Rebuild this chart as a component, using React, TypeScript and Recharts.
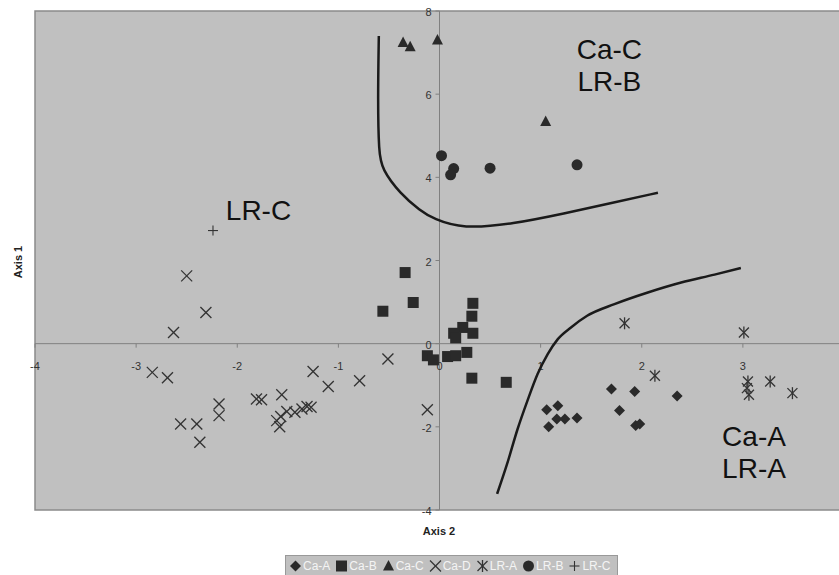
import React from "react";
import {
  ScatterChart,
  Scatter,
  XAxis,
  YAxis,
  ReferenceArea,
  ReferenceLine,
  ReferenceDot,
} from "recharts";

// groups (Axis 2 = x, Axis 1 = y)
const caA = [
  { x: 1.06, y: -1.59 }, { x: 1.17, y: -1.49 }, { x: 1.16, y: -1.81 },
  { x: 1.24, y: -1.81 }, { x: 1.36, y: -1.79 }, { x: 1.08, y: -2.0 },
  { x: 1.7, y: -1.09 }, { x: 1.93, y: -1.15 }, { x: 1.78, y: -1.61 },
  { x: 1.94, y: -1.97 }, { x: 1.98, y: -1.93 }, { x: 2.35, y: -1.26 },
];
const caB = [
  { x: -0.34, y: 1.71 }, { x: -0.26, y: 0.99 }, { x: -0.56, y: 0.78 },
  { x: 0.33, y: 0.97 }, { x: 0.32, y: 0.66 }, { x: 0.23, y: 0.39 },
  { x: 0.14, y: 0.25 }, { x: 0.16, y: 0.14 }, { x: 0.33, y: 0.25 },
  { x: -0.12, y: -0.29 }, { x: -0.06, y: -0.39 }, { x: 0.08, y: -0.31 },
  { x: 0.16, y: -0.29 }, { x: 0.27, y: -0.21 }, { x: 0.32, y: -0.83 },
  { x: 0.66, y: -0.93 },
];
const caC = [
  { x: -0.36, y: 7.24 }, { x: -0.29, y: 7.14 }, { x: -0.02, y: 7.3 },
  { x: 1.05, y: 5.34 },
];
const caD = [
  { x: -2.5, y: 1.63 }, { x: -2.31, y: 0.75 }, { x: -2.63, y: 0.27 },
  { x: -2.84, y: -0.69 }, { x: -2.69, y: -0.82 }, { x: -2.56, y: -1.93 },
  { x: -2.4, y: -1.93 }, { x: -2.37, y: -2.37 }, { x: -2.18, y: -1.45 },
  { x: -2.18, y: -1.73 }, { x: -1.81, y: -1.33 }, { x: -1.76, y: -1.35 },
  { x: -1.56, y: -1.23 }, { x: -1.61, y: -1.85 }, { x: -1.58, y: -2.0 },
  { x: -1.57, y: -1.75 }, { x: -1.51, y: -1.63 }, { x: -1.43, y: -1.65 },
  { x: -1.36, y: -1.57 }, { x: -1.31, y: -1.51 }, { x: -1.27, y: -1.53 },
  { x: -1.25, y: -0.67 }, { x: -1.1, y: -1.03 }, { x: -0.79, y: -0.89 },
  { x: -0.51, y: -0.37 }, { x: -0.12, y: -1.59 },
];
const lrA = [
  { x: 1.83, y: 0.49 }, { x: 3.01, y: 0.27 }, { x: 2.13, y: -0.77 },
  { x: 3.05, y: -0.91 }, { x: 3.04, y: -1.07 }, { x: 3.06, y: -1.23 },
  { x: 3.27, y: -0.91 }, { x: 3.49, y: -1.19 },
];
const lrB = [
  { x: 0.02, y: 4.52 }, { x: 0.14, y: 4.21 }, { x: 0.11, y: 4.06 },
  { x: 0.5, y: 4.22 }, { x: 1.36, y: 4.3 },
];
const lrC = [{ x: -2.24, y: 2.72 }];

// the two hand drawn boundaries
const boundaryTop = [
  { x: -0.6, y: 7.4 }, { x: -0.61, y: 5.84 }, { x: -0.6, y: 4.6 },
  { x: -0.57, y: 4.2 }, { x: -0.39, y: 3.61 }, { x: -0.19, y: 3.2 },
  { x: -0.06, y: 3.0 }, { x: 0.23, y: 2.76 }, { x: 0.73, y: 2.88 },
  { x: 1.23, y: 3.13 }, { x: 1.72, y: 3.39 }, { x: 2.16, y: 3.63 },
];
const boundaryBottom = [
  { x: 0.57, y: -3.61 }, { x: 0.67, y: -2.88 }, { x: 0.77, y: -2.07 },
  { x: 0.87, y: -1.37 }, { x: 0.97, y: -0.73 }, { x: 1.07, y: -0.25 },
  { x: 1.17, y: 0.11 }, { x: 1.3, y: 0.39 }, { x: 1.46, y: 0.67 },
  { x: 1.73, y: 0.95 }, { x: 2.06, y: 1.23 }, { x: 2.39, y: 1.47 },
  { x: 2.72, y: 1.66 }, { x: 2.98, y: 1.82 },
];

const xTicks = [-4, -3, -2, -1, 0, 1, 2, 3];
const yTicks = [-4, -2, 0, 2, 4, 6, 8];

const regionLabels = [
  { x: 1.68, y: 7.07, text: "Ca-C" },
  { x: 1.68, y: 6.3, text: "LR-B" },
  { x: -1.79, y: 3.2, text: "LR-C" },
  { x: 3.11, y: -2.24, text: "Ca-A" },
  { x: 3.11, y: -3.0, text: "LR-A" },
];

const FONT = "Arial, 'Liberation Sans', sans-serif";
const MARK = "#2a2a2a";

const diamond = ({ cx, cy }: any) => (
  <polygon points={`${cx},${cy - 5.5} ${cx + 5.5},${cy} ${cx},${cy + 5.5} ${cx - 5.5},${cy}`} fill={MARK} />
);
const square = ({ cx, cy }: any) => (
  <rect x={cx - 5.5} y={cy - 5.5} width={11} height={11} fill={MARK} />
);
const triangle = ({ cx, cy }: any) => (
  <polygon points={`${cx},${cy - 6} ${cx + 5.5},${cy + 4.5} ${cx - 5.5},${cy + 4.5}`} fill={MARK} />
);
const cross = ({ cx, cy }: any) => (
  <g stroke="#333" strokeWidth={1.3}>
    <line x1={cx - 5.5} y1={cy - 5.5} x2={cx + 5.5} y2={cy + 5.5} />
    <line x1={cx - 5.5} y1={cy + 5.5} x2={cx + 5.5} y2={cy - 5.5} />
  </g>
);
const star = ({ cx, cy }: any) => (
  <g stroke="#333" strokeWidth={1.3}>
    <line x1={cx - 5} y1={cy - 5} x2={cx + 5} y2={cy + 5} />
    <line x1={cx - 5} y1={cy + 5} x2={cx + 5} y2={cy - 5} />
    <line x1={cx} y1={cy - 6} x2={cx} y2={cy + 6} />
  </g>
);
const circle = ({ cx, cy }: any) => <circle cx={cx} cy={cy} r={5.5} fill={MARK} />;
const plus = ({ cx, cy }: any) => (
  <g stroke="#333" strokeWidth={1.1}>
    <line x1={cx - 5} y1={cy} x2={cx + 5} y2={cy} />
    <line x1={cx} y1={cy - 5} x2={cx} y2={cy + 5} />
  </g>
);

const series = [
  { name: "Ca-A", data: caA, shape: diamond },
  { name: "Ca-B", data: caB, shape: square },
  { name: "Ca-C", data: caC, shape: triangle },
  { name: "Ca-D", data: caD, shape: cross },
  { name: "LR-A", data: lrA, shape: star },
  { name: "LR-B", data: lrB, shape: circle },
  { name: "LR-C", data: lrC, shape: plus },
];

const noDot = () => <g />;

export default function App() {
  return (
    <div
      style={{
        position: "fixed",
        left: 0,
        top: 0,
        width: 839,
        height: 575,
        overflow: "hidden",
        background: "#fff",
        fontFamily: FONT,
      }}
    >
      <ScatterChart width={860} height={575} margin={{ top: 11, right: 16, bottom: 65, left: 35 }}>
        <XAxis type="number" dataKey="x" domain={[-4, 4]} hide />
        <YAxis type="number" dataKey="y" domain={[-4, 8]} hide />
        <ReferenceArea x1={-4} x2={4} y1={-4} y2={8} fill="#c0c0c0" fillOpacity={1} stroke="#8a8a8a" strokeWidth={1.5} />
        <ReferenceLine x={0} stroke="#808080" />
        <ReferenceLine y={0} stroke="#808080" />
        {xTicks.map((t) => (
          <ReferenceDot
            key={"x" + t}
            x={t}
            y={0}
            r={0}
            shape={({ cx, cy }: any) => (
              <g>
                <line x1={cx} y1={cy} x2={cx} y2={cy + 4} stroke="#808080" />
                <text x={cx} y={cy + 22} textAnchor="middle" dominantBaseline="central" fontSize={11} fill="#333" fontFamily={FONT}>
                  {t}
                </text>
              </g>
            )}
          />
        ))}
        {yTicks.map((t) => (
          <ReferenceDot
            key={"y" + t}
            x={0}
            y={t}
            r={0}
            shape={({ cx, cy }: any) => (
              <g>
                <line x1={cx - 4} y1={cy} x2={cx} y2={cy} stroke="#808080" />
                <text x={cx - 8} y={cy + 1} textAnchor="end" dominantBaseline="central" fontSize={11} fill="#333" fontFamily={FONT}>
                  {t}
                </text>
              </g>
            )}
          />
        ))}
        <Scatter data={boundaryTop} shape={noDot} line={{ stroke: "#1a1a1a", strokeWidth: 2.5 }} lineJointType="basis" isAnimationActive={false} legendType="none" />
        <Scatter data={boundaryBottom} shape={noDot} line={{ stroke: "#1a1a1a", strokeWidth: 2.5 }} lineJointType="monotoneX" isAnimationActive={false} legendType="none" />
        {series.map((s) => (
          <Scatter key={s.name} name={s.name} data={s.data} shape={s.shape} isAnimationActive={false} />
        ))}
        {regionLabels.map((l) => (
          <ReferenceDot
            key={l.text + l.y}
            x={l.x}
            y={l.y}
            r={0}
            shape={({ cx, cy }: any) => (
              <text x={cx} y={cy} textAnchor="middle" dominantBaseline="central" fontSize={28} fill="#111" fontFamily={FONT}>
                {l.text}
              </text>
            )}
          />
        ))}
      </ScatterChart>

      {/* axis titles */}
      <div style={{ position: "absolute", left: 339, width: 200, top: 525, textAlign: "center", fontSize: 11, fontWeight: "bold", color: "#222" }}>
        Axis 2
      </div>
      <div
        style={{
          position: "absolute",
          left: 18,
          top: 262,
          transform: "translate(-50%, -50%) rotate(-90deg)",
          fontSize: 11,
          fontWeight: "bold",
          color: "#222",
          whiteSpace: "nowrap",
        }}
      >
        Axis 1
      </div>

      {/* legend */}
      <div
        style={{
          position: "absolute",
          left: 285,
          top: 555,
          height: 20,
          paddingLeft: 3,
          paddingRight: 2,
          display: "flex",
          alignItems: "center",
          background: "#c0c0c0",
          border: "1px solid #999",
          fontSize: 12,
          color: "#f4f4f4",
          whiteSpace: "nowrap",
        }}
      >
        {series.map((s) => (
          <span key={s.name} style={{ display: "inline-flex", alignItems: "center", marginRight: 5 }}>
            <svg width={13} height={12}>
              {s.shape({ cx: 6.5, cy: 6 })}
            </svg>
            <span style={{ marginLeft: 1 }}>{s.name}</span>
          </span>
        ))}
      </div>
    </div>
  );
}
